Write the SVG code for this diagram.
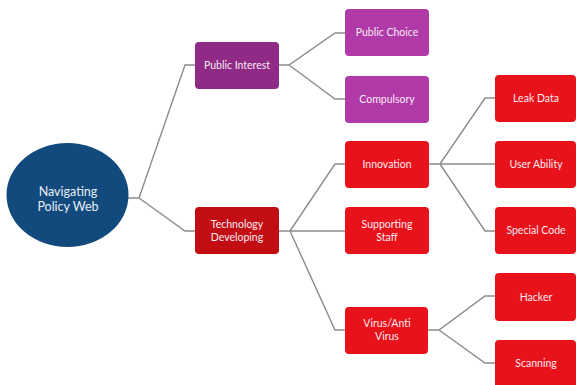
<svg xmlns="http://www.w3.org/2000/svg" width="576" height="385" viewBox="0 0 576 385">
<style>
.bg{fill:#ffffff}
.c{fill:none;stroke:#8c8c8c;stroke-width:1.4}
.t{font-family:Lato,"Open Sans",sans-serif;font-size:10.5px;text-anchor:middle;fill:#fbe9f2}
.root{fill:#124a7e}
.pi{fill:#8f2a86}
.pl{fill:#b03aa8}
.td{fill:#c20d14}
.r{fill:#e8121a}
.rt{font-family:Lato,"Open Sans",sans-serif;font-size:12.5px;text-anchor:middle;fill:#e8eef6}
</style>
<rect class="bg" x="0" y="0" width="576" height="385"/>
<g id="connectors">
<path class="c" d="M128,198 H139 L185,65 H195 M139,198 L185,231 H195"/>
<path class="c" d="M279,65 H289 L335,33 H345 M289,65 L335,99 H345"/>
<path class="c" d="M279,231 H290 L335,164 H345 M290,231 H345 M290,231 L335,330 H345"/>
<path class="c" d="M429,164 H440 L485,98 H495 M440,164 H495 M440,164 L485,231 H495"/>
<path class="c" d="M428,330 H439 L485,296 H495 M439,330 L485,363 H495"/>
</g>
<g id="root"><ellipse class="root" cx="67.5" cy="195" rx="61" ry="52"/><text class="rt" x="68" y="196">Navigating</text><text class="rt" x="68" y="211">Policy Web</text></g>
<g id="public-interest"><rect class="pi" x="195" y="42" width="84" height="47" rx="4"/><text class="t" x="237" y="69">Public Interest</text></g>
<g id="public-choice"><rect class="pl" x="345" y="9" width="84" height="47" rx="4"/><text class="t" x="387" y="36">Public Choice</text></g>
<g id="compulsory"><rect class="pl" x="345" y="76" width="84" height="47" rx="4"/><text class="t" x="387" y="103">Compulsory</text></g>
<g id="technology-developing"><rect class="td" x="195" y="207" width="84" height="47" rx="4"/><text class="t" x="237" y="228">Technology</text><text class="t" x="237" y="241">Developing</text></g>
<g id="innovation"><rect class="r" x="345" y="141" width="84" height="47" rx="4"/><text class="t" x="387" y="168">Innovation</text></g>
<g id="supporting-staff"><rect class="r" x="345" y="207" width="84" height="47" rx="4"/><text class="t" x="387" y="228">Supporting</text><text class="t" x="387" y="241">Staff</text></g>
<g id="virus-anti-virus"><rect class="r" x="345" y="307" width="83" height="47" rx="4"/><text class="t" x="387" y="327">Virus/Anti</text><text class="t" x="387" y="340">Virus</text></g>
<g id="leak-data"><rect class="r" x="495" y="75" width="81" height="47" rx="4"/><text class="t" x="536" y="102">Leak Data</text></g>
<g id="user-ability"><rect class="r" x="495" y="141" width="81" height="47" rx="4"/><text class="t" x="536" y="168">User Ability</text></g>
<g id="special-code"><rect class="r" x="495" y="207" width="81" height="47" rx="4"/><text class="t" x="536" y="234">Special Code</text></g>
<g id="hacker"><rect class="r" x="495" y="273" width="81" height="48" rx="4"/><text class="t" x="536" y="301">Hacker</text></g>
<g id="scanning"><rect class="r" x="495" y="340" width="81" height="48" rx="4"/><text class="t" x="536" y="367">Scanning</text></g>
</svg>
